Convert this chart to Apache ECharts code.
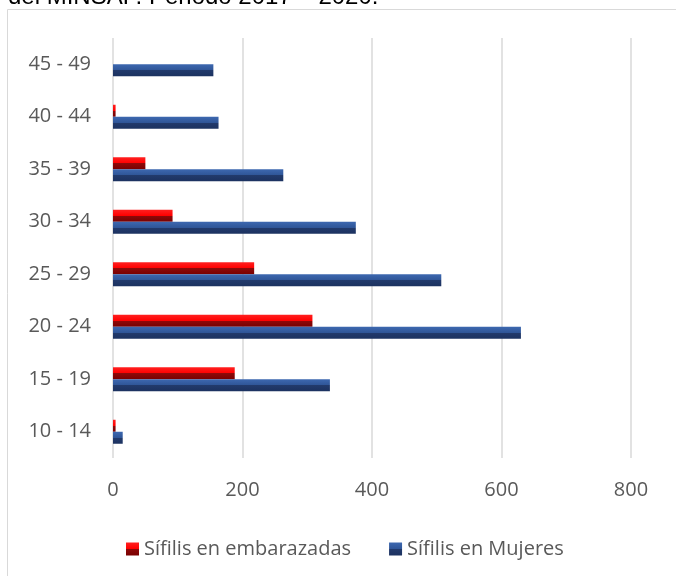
<!DOCTYPE html>
<html><head><meta charset="utf-8">
<script src="https://cdn.jsdelivr.net/npm/echarts@6/dist/echarts.min.js"></script>
<style>html,body{margin:0;padding:0;background:#fff}#c{width:676px;height:576px}</style>
</head><body><div id="c"></div>
<script>
const categories = ['10 - 14','15 - 19','20 - 24','25 - 29','30 - 34','35 - 39','40 - 44','45 - 49'];
const embarazadas = [4, 188, 308, 218, 92, 50, 4, 0];
const mujeres = [15, 335, 630, 507, 375, 263, 163, 155];
const xTicks = [0, 200, 400, 600, 800];
const seriesNames = ['Sífilis en embarazadas', 'Sífilis en Mujeres'];
const titleText = 'del MINSAP. Periodo 2017 – 2020.';

const redGrad = {type:'linear',x:0,y:0,x2:0,y2:1,colorStops:[
  {offset:0,color:'#ff2020'},{offset:0.5,color:'#ff0000'},{offset:0.5,color:'#8e0a0a'},{offset:1,color:'#7a0000'}]};
const blueGrad = {type:'linear',x:0,y:0,x2:0,y2:1,colorStops:[
  {offset:0,color:'#3d68b0'},{offset:0.5,color:'#2f5597'},{offset:0.5,color:'#223a6c'},{offset:1,color:'#1c3260'}]};
const font = '"Open Sans", sans-serif';
const chart = echarts.init(document.getElementById('c'), null, {renderer:'canvas'});
chart.setOption({
  animation:false,
  graphic:[
    {type:'rect', shape:{x:7.5,y:9.5,width:700,height:600}, style:{fill:'none',stroke:'#d9d9d9',lineWidth:1}},
    {type:'text', x:8, y:-3, style:{text:titleText, font:'24px "Liberation Sans", Arial, sans-serif', fill:'#000', textVerticalAlign:'middle'}}
  ],
  grid:{left:113, right:45, top:38, bottom:118, containLabel:false},
  legend:{
    data:seriesNames, left:121, top:534, itemWidth:13, itemHeight:13, itemGap:38,
    icon:'rect', textStyle:{color:'#595959', fontSize:20, fontFamily:font}
  },
  xAxis:{
    type:'value', min:0, max:800, interval:200,
    axisLine:{show:false}, axisTick:{show:false},
    splitLine:{lineStyle:{color:'#d9d9d9', width:1.5}},
    axisLabel:{color:'#595959', fontSize:20, fontFamily:font, margin:22,
      formatter:function(v){return xTicks.indexOf(v)>=0?String(v):'';}}
  },
  yAxis:{
    type:'category', data:categories,
    axisLine:{show:false}, axisTick:{show:false},
    axisLabel:{color:'#595959', fontSize:20, fontFamily:font, margin:22}
  },
  series:[
    {name:seriesNames[0], type:'bar', data:embarazadas, barWidth:12, barGap:'0%',
     itemStyle:{color:redGrad}},
    {name:seriesNames[1], type:'bar', data:mujeres, barWidth:12, barGap:'0%',
     itemStyle:{color:blueGrad}}
  ]
});
</script></body></html>
